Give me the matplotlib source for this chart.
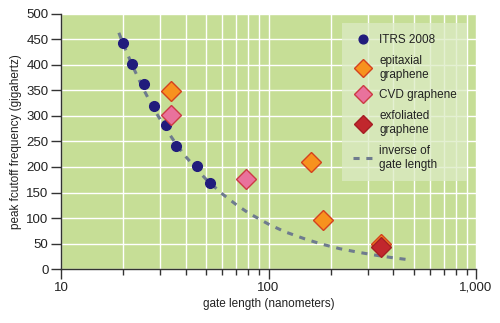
import matplotlib.pyplot as plt
from matplotlib.ticker import FixedLocator, LogLocator, NullFormatter

plt.rcParams['font.family'] = ['Liberation Sans', 'DejaVu Sans']

# ITRS 2008 roadmap
itrs_x = [20, 22, 25, 28, 32, 36, 45, 52]
itrs_y = [442, 401, 362, 320, 282, 241, 201, 169]

epi_x = [34, 160, 183, 350]
epi_y = [349, 210, 97, 50]

cvd_x = [34, 78]
cvd_y = [302, 177]

exf_x = [350]
exf_y = [44]

# inverse of gate length
inv_x = [19, 20, 22, 25, 28, 32, 36, 40, 45, 50, 60, 70, 80, 100, 120, 150, 180, 220, 270, 330, 400, 480]
inv_y = [463, 440, 400, 352, 314, 275, 244, 220, 196, 176, 147, 126, 110, 88, 73, 59, 49, 40, 33, 27, 22, 18]

fig = plt.figure(figsize=(5, 3.23), dpi=100)
ax = fig.add_axes([0.122, 0.167, 0.830, 0.790])
ax.set_facecolor('#c6de96')

ax.plot(inv_x, inv_y, color='#6e7b8e', lw=2.2, ls=(0, (2, 2.2)), zorder=3,
        label='inverse of\ngate length')
ax.plot(itrs_x, itrs_y, 'o', color='#211c7c', ms=7, mec='#211c7c', zorder=4,
        label='ITRS 2008')
ax.plot(epi_x, epi_y, 'D', color='#f7921e', mec='#d4411e', mew=1, ms=10, zorder=4,
        label='epitaxial\ngraphene')
ax.plot(cvd_x, cvd_y, 'D', color='#e9729c', mec='#cc3a44', mew=1, ms=10, zorder=4,
        label='CVD graphene')
ax.plot(exf_x, exf_y, 'D', color='#c1272d', mec='#a51e24', mew=1, ms=10, zorder=5,
        label='exfoliated\ngraphene')

ax.set_xscale('log')
ax.set_xlim(10, 1000)
ax.set_ylim(0, 500)
ax.set_yticks(range(0, 501, 50))
ax.xaxis.set_major_locator(FixedLocator([10, 100, 1000]))
ax.xaxis.set_minor_locator(LogLocator(base=10, subs=range(2, 10)))
ax.xaxis.set_minor_formatter(NullFormatter())
ax.set_xticklabels(['10', '100', '1,000'])

ax.grid(True, which='both', color='white', lw=1)
ax.set_axisbelow(True)
for s in ['top', 'right']:
    ax.spines[s].set_visible(False)
for s in ['left', 'bottom']:
    ax.spines[s].set_color('#333333')
    ax.spines[s].set_linewidth(1)
ax.tick_params(axis='both', which='major', length=7, width=1, color='#333333',
               labelsize=9.5, labelcolor='#222222')
ax.tick_params(axis='x', which='minor', length=4, width=1, color='#333333')
ax.tick_params(axis='x', which='major', pad=2)
ax.tick_params(axis='y', which='major', pad=2)

ax.set_xlabel('gate length (nanometers)', fontsize=8.5, color='#222222', labelpad=3)
ax.set_ylabel('peak fcutoff frequency (gigahertz)', fontsize=8.5, color='#222222',
              labelpad=3)

h, l = ax.get_legend_handles_labels()
order = [1, 2, 3, 4, 0]
leg = ax.legend([h[i] for i in order], [l[i] for i in order],
                loc='upper left', bbox_to_anchor=(0.664, 0.986),
                fontsize=8.5, frameon=True, facecolor='#dcebc4', edgecolor='none',
                framealpha=0.75, fancybox=False, handlelength=1.6, labelspacing=0.75,
                borderpad=0.9, handletextpad=0.6, markerscale=0.9)
for t in leg.get_texts():
    t.set_color('#222222')

fig.savefig('out.png', dpi=100)
